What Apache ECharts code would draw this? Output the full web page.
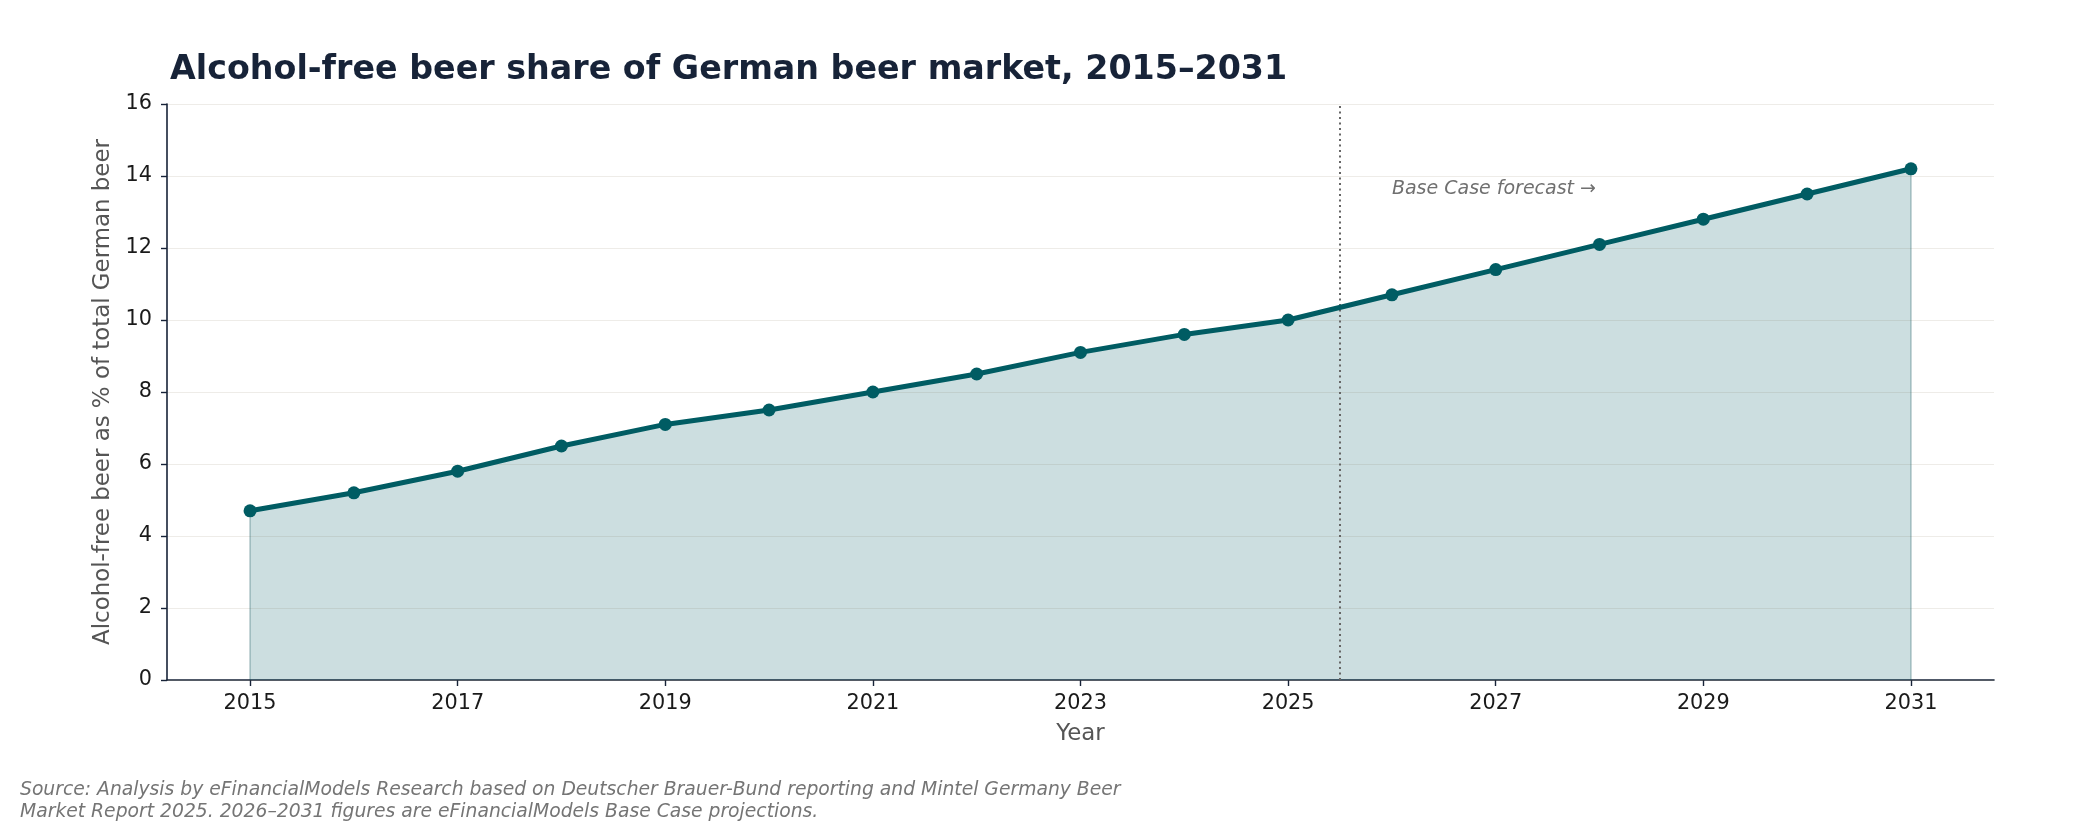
<!DOCTYPE html>
<html>
<head>
<meta charset="utf-8">
<script src="https://cdn.jsdelivr.net/npm/echarts@6/dist/echarts.min.js"></script>
<style>
html,body{margin:0;padding:0;background:#fff;}
#chart{width:2100px;height:825px;}
</style>
</head>
<body>
<div id="chart"></div>
<script>
const years = [2015,2016,2017,2018,2019,2020,2021,2022,2023,2024,2025,2026,2027,2028,2029,2030,2031];
const share = [4.7,5.2,5.8,6.5,7.1,7.5,8.0,8.5,9.1,9.6,10.0,10.7,11.4,12.1,12.8,13.5,14.2];
const xTickValues = [2015,2017,2019,2021,2023,2025,2027,2029,2031];
const forecastStart = 2025.5;
const annotationPos = [2026, 13.65];
const titleText = 'Alcohol-free beer share of German beer market, 2015\u20132031';
const xName = 'Year';
const yName = 'Alcohol-free beer as % of total German beer';
const annotationText = 'Base Case forecast \u2192';
const sourceText = 'Source: Analysis by eFinancialModels Research based on Deutscher Brauer-Bund reporting and Mintel Germany Beer\nMarket Report 2025. 2026\u20132031 figures are eFinancialModels Base Case projections.';

const points = years.map((y, i) => [y, share[i]]);
const teal = '#005c63';
const dark = '#172338';
const font = 'DejaVu Sans';

const chart = echarts.init(document.getElementById('chart'), null, {renderer: 'canvas'});
chart.setOption({
  animation: false,
  backgroundColor: '#ffffff',
  textStyle: {fontFamily: font},
  title: {
    text: titleText,
    left: 165,
    top: 49,
    textStyle: {fontFamily: font, fontSize: 33.3, fontWeight: 'bold', color: dark}
  },
  grid: {left: 167, right: 106, top: 104, bottom: 145, containLabel: false},
  xAxis: {
    type: 'value',
    min: 2014.2,
    max: 2031.8,
    name: xName,
    nameLocation: 'middle',
    nameGap: 43,
    nameTextStyle: {fontFamily: font, fontSize: 22.9, color: '#555555'},
    axisLine: {show: true, onZero: false, lineStyle: {color: dark, width: 1.6}},
    axisTick: {show: true, length: 6, customValues: xTickValues, lineStyle: {color: dark, width: 1.4}},
    axisLabel: {customValues: xTickValues, margin: 13, fontFamily: font, fontSize: 20.8, color: '#1a1a1a', formatter: v => String(v)},
    splitLine: {show: false}
  },
  yAxis: {
    type: 'value',
    min: 0,
    max: 16,
    interval: 2,
    z: 3,
    name: yName,
    nameLocation: 'middle',
    nameGap: 45,
    nameTextStyle: {fontFamily: font, fontSize: 22.9, color: '#555555'},
    axisLine: {show: true, lineStyle: {color: dark, width: 1.6}},
    axisTick: {show: true, length: 6, lineStyle: {color: dark, width: 1.4}},
    axisLabel: {margin: 15, fontFamily: font, fontSize: 20.8, color: '#1a1a1a'},
    splitLine: {show: true, lineStyle: {color: 'rgba(120,110,80,0.13)', width: 1.2}}
  },
  series: [
    {
      type: 'line',
      data: points,
      z: 1,
      symbol: 'none',
      lineStyle: {width: 0, opacity: 0},
      areaStyle: {color: teal, opacity: 0.2, origin: 'start'},
      markLine: {
        silent: true,
        symbol: 'none',
        label: {show: false},
        lineStyle: {color: 'rgba(0,70,76,0.22)', width: 2, type: 'solid'},
        data: [
          [{coord: [years[0], 0]}, {coord: [years[0], share[0]]}],
          [{coord: [years[years.length-1], 0]}, {coord: [years[years.length-1], share[share.length-1]]}]
        ]
      }
    },
    {
      type: 'line',
      data: points,
      z: 5,
      symbol: 'circle',
      symbolSize: 13,
      itemStyle: {color: teal},
      lineStyle: {color: teal, width: 5},
      markLine: {
        silent: true,
        symbol: 'none',
        label: {show: false},
        lineStyle: {color: '#666666', width: 2, type: [2, 3.5]},
        data: [{xAxis: forecastStart}]
      },
      markPoint: {
        silent: true,
        symbol: 'circle',
        symbolSize: 0,
        data: [{coord: annotationPos}],
        label: {
          show: true,
          position: [0, 0],
          align: 'left',
          verticalAlign: 'middle',
          formatter: annotationText,
          fontFamily: font,
          fontStyle: 'italic',
          fontSize: 19,
          color: '#707070'
        }
      }
    }
  ],
  graphic: [{
    type: 'text',
    left: 20,
    top: 779,
    style: {
      text: sourceText,
      fontFamily: font,
      fontStyle: 'italic',
      fontSize: 18.75,
      lineHeight: 22,
      fill: '#757575'
    }
  }]
});
</script>
</body>
</html>
